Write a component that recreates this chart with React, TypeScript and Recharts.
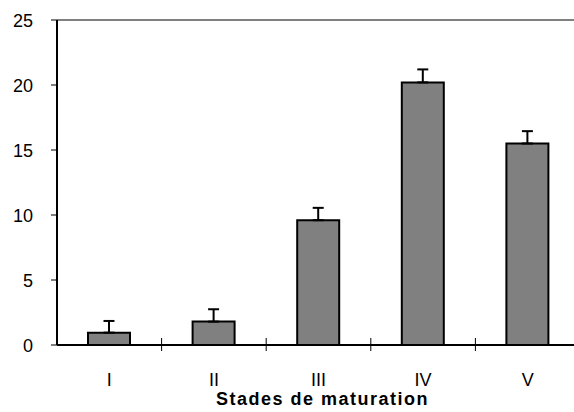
import React from "react";
import { BarChart, Bar, XAxis, YAxis, ErrorBar, ReferenceLine } from "recharts";

const stades = ["I", "II", "III", "IV", "V"];
const moyennes = [0.95, 1.8, 9.6, 20.2, 15.5];
const erreurs = [0.9, 0.95, 0.95, 1.0, 0.95];
const yTicks = [0, 5, 10, 15, 20, 25];

const data = stades.map((s, i) => ({ stade: s, valeur: moyennes[i], err: [0, erreurs[i]] }));

const FONT = "Arial, 'Liberation Sans', sans-serif";

const StadeTick = (props: any) => {
  const { x, y, payload } = props;
  const half = payload.offset ?? 52;
  return (
    <g>
      <line x1={x + half} x2={x + half} y1={y - 7} y2={y + 6} stroke="#000" strokeWidth={1} />
      <text x={x} y={y + 41} textAnchor="middle" fontSize={18} fontFamily={FONT} fill="#000">
        {payload.value}
      </text>
    </g>
  );
};

const App: React.FC = () => {
  return (
    <div style={{ position: "absolute", left: 0, top: 0, width: 574, height: 412, overflow: "hidden", background: "#fff" }}>
      <BarChart width={582} height={412} data={data} margin={{ top: 20, right: 2, bottom: 0, left: 7 }}>
        <ReferenceLine y={25} stroke="#808080" strokeWidth={2} />
        <XAxis
          dataKey="stade"
          height={67}
          tickSize={0}
          tickMargin={0}
          tickLine={false}
          axisLine={{ stroke: "#000", strokeWidth: 2 }}
          tick={<StadeTick />}
          interval={0}
          label={{
            value: "Stades de maturation",
            position: "insideBottom",
            offset: 7,
            dx: 4,
            fontSize: 18,
            fontWeight: "bold",
            fontFamily: FONT,
            fill: "#000",
            letterSpacing: 1.5,
          }}
        />
        <YAxis
          width={50}
          domain={[0, 25]}
          ticks={yTicks}
          interval={0}
          tickSize={6}
          tickMargin={18}
          axisLine={{ stroke: "#000", strokeWidth: 2 }}
          tickLine={{ stroke: "#000" }}
          tick={{ fontSize: 18, fontFamily: FONT, fill: "#000", dy: 1 }}
        />
        <Bar dataKey="valeur" fill="#808080" stroke="#000" strokeWidth={2} barSize={42} isAnimationActive={false}>
          <ErrorBar dataKey="err" direction="y" width={5.5} stroke="#000" strokeWidth={2} isAnimationActive={false} />
        </Bar>
      </BarChart>
    </div>
  );
};

export default App;
